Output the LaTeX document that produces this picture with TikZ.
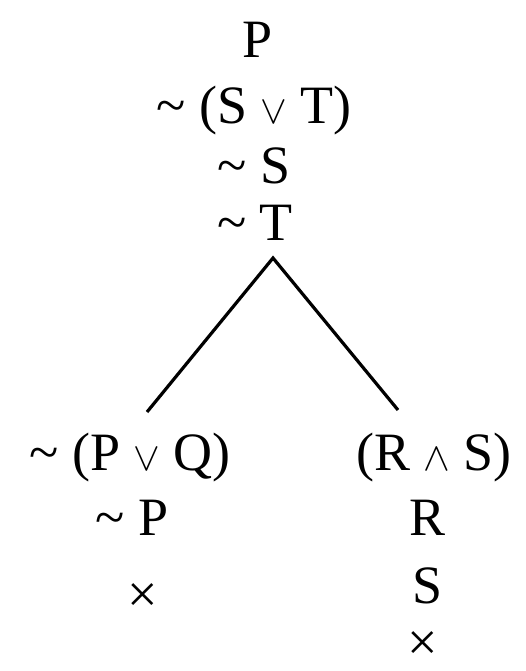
\RequirePackage{fix-cm}
\documentclass[tikz,border=0pt]{standalone}
\usepackage{fontspec}
\setmainfont{Liberation Serif}
\usepackage{tikz}

\newcommand{\disj}{\hspace{13pt}{\fontsize{40}{40}\selectfont$\vee$}\hspace{13pt}}
\newcommand{\conj}{\hspace{13pt}{\fontsize{40}{40}\selectfont$\wedge$}\hspace{13pt}}

\begin{document}
\begin{tikzpicture}[x=1pt, y=-1pt,
    font=\fontsize{54}{60}\selectfont,
    line/.style={inner sep=0pt, anchor=base},
    branch/.style={line width=3.2pt}]
  \useasboundingbox (0,0) rectangle (526,671);
  % Trunk
  \node[line] (prem) at (258,58) {P};
  \node[line] (negor) at (254,124) {\textasciitilde\ (S\disj T)};
  \node[line] (negs) at (254,183) {\textasciitilde\ S};
  \node[line] (negt) at (255,240) {\textasciitilde\ T};
  % Branching
  \coordinate (apex) at (273,258);
  \coordinate (lend) at (147,412);
  \coordinate (rend) at (398,410);
  \draw[branch] (lend) -- (apex) -- (rend);
  % Left branch
  \node[line] (negpq) at (130,470) {\textasciitilde\ (P\disj Q)};
  \node[line] (negp) at (132,535) {\textasciitilde\ P};
  \node[line] (lclose) at (143,612) {\texttimes};
  % Right branch
  \node[line] (rands) at (434,470) {(R\conj S)};
  \node[line] (ratom) at (428,535) {R};
  \node[line] (satom) at (428,603) {S};
  \node[line] (rclose) at (423,660) {\texttimes};
\end{tikzpicture}
\end{document}
